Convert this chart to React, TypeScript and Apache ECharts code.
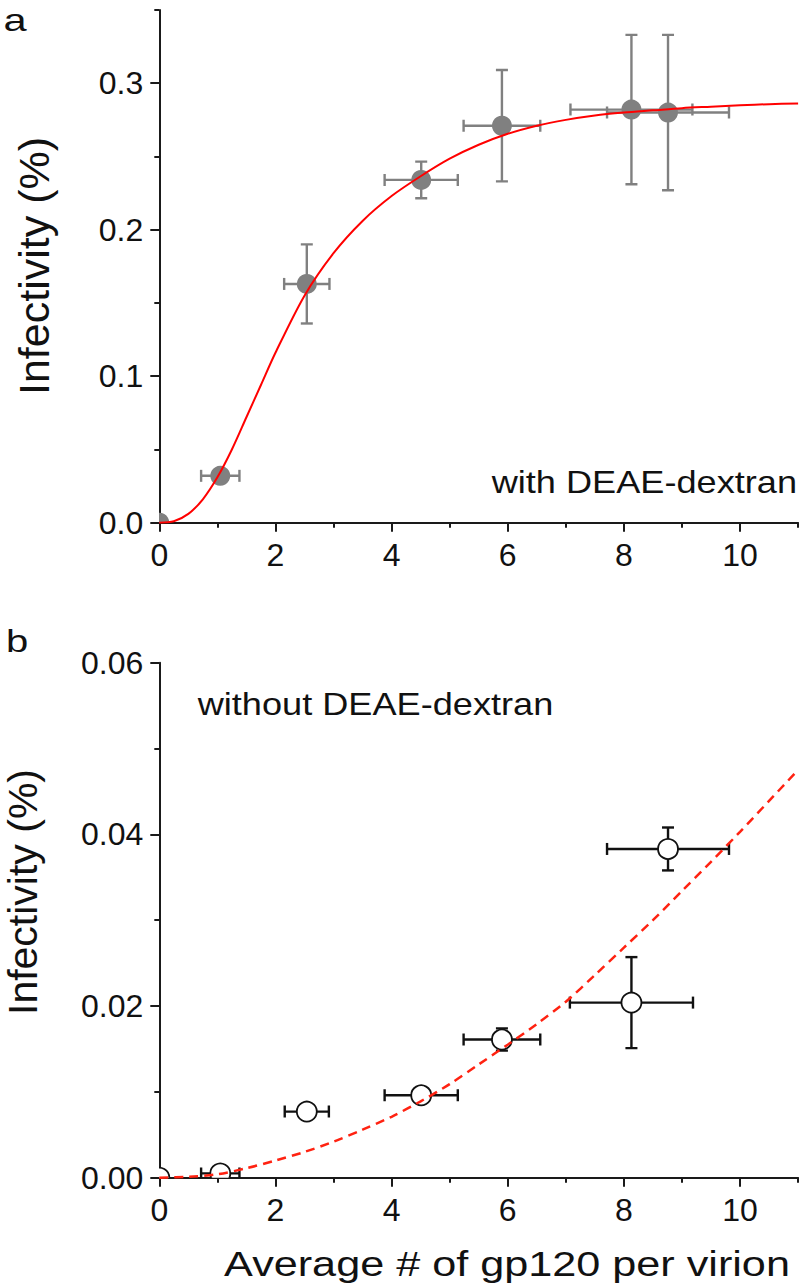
import React, { useEffect, useRef } from "react";
import * as echarts from "echarts";

// Panel a (with DEAE-dextran)
const TOP_X = [0, 1.05, 2.54, 4.51, 5.9, 8.13, 8.76];
const TOP_Y = [0, 0.032, 0.163, 0.234, 0.271, 0.282, 0.28];
const TOP_XERR = [0, 0.33, 0.39, 0.63, 0.66, 1.05, 1.05];
const TOP_YERR = [0, 0, 0.027, 0.0125, 0.038, 0.051, 0.053];
const TOP_FIT_X = [0, 0.25, 0.5, 0.75, 1, 1.25, 1.5, 1.75, 2, 2.5, 3, 3.5, 4, 4.5, 5, 5.5, 6, 6.5, 7, 7.5, 8, 8.5, 9, 9.5, 10, 10.5, 11];
const TOP_FIT_Y = [0, 0.001, 0.006, 0.016, 0.031, 0.05, 0.072, 0.094, 0.116, 0.155, 0.184, 0.206, 0.223, 0.2365, 0.2485, 0.258, 0.2655, 0.271, 0.275, 0.278, 0.28, 0.2815, 0.283, 0.284, 0.285, 0.2857, 0.2862];

// Panel b (without DEAE-dextran)
const BOT_X = [0, 1.05, 2.54, 4.51, 5.9, 8.13, 8.76];
const BOT_Y = [0, 0.0005, 0.0077, 0.0096, 0.0161, 0.0204, 0.0383];
const BOT_XERR = [0, 0.33, 0.38, 0.63, 0.66, 1.06, 1.05];
const BOT_YERR = [0, 0, 0, 0.0004, 0.0013, 0.0053, 0.0025];
const BOT_FIT_X = [0, 0.5, 1, 1.5, 2, 2.5, 3, 3.5, 4, 4.5, 5, 5.5, 6, 6.5, 7, 7.5, 8, 8.5, 9, 9.5, 10, 10.5, 11];
const BOT_FIT_Y = [0, 0.0001, 0.0004, 0.0011, 0.002, 0.003, 0.0042, 0.0056, 0.0071, 0.0089, 0.0109, 0.0132, 0.0155, 0.0179, 0.0205, 0.0236, 0.0268, 0.03, 0.0334, 0.0368, 0.0403, 0.0439, 0.0475];

// Ticks
const X_MAJOR = [0, 2, 4, 6, 8, 10];
const X_MINOR = [1, 3, 5, 7, 9, 11];
const TOP_Y_MAJOR = [0, 0.1, 0.2, 0.3];
const TOP_Y_MINOR = [0.05, 0.15, 0.25, 0.35];
const BOT_Y_MAJOR = [0, 0.02, 0.04, 0.06];
const BOT_Y_MINOR = [0.01, 0.03, 0.05];

const FONT = "'Liberation Sans', Arial, Helvetica, sans-serif";
const AX = "#1a1a1a";

function errorBars(color: string, cap: number) {
  return (params: any, api: any) => {
    const x = api.value(0), y = api.value(1), ex = api.value(2), ey = api.value(3);
    const ch: any[] = [];
    const st = { stroke: color, lineWidth: 2.4 };
    if (ex > 0) {
      const l = api.coord([x - ex, y]);
      const r = api.coord([x + ex, y]);
      ch.push({ type: "line", shape: { x1: l[0], y1: l[1], x2: r[0], y2: r[1] }, style: st });
      ch.push({ type: "line", shape: { x1: l[0], y1: l[1] - cap, x2: l[0], y2: l[1] + cap }, style: st });
      ch.push({ type: "line", shape: { x1: r[0], y1: r[1] - cap, x2: r[0], y2: r[1] + cap }, style: st });
    }
    if (ey > 0) {
      const t = api.coord([x, y + ey]);
      const b = api.coord([x, y - ey]);
      ch.push({ type: "line", shape: { x1: t[0], y1: t[1], x2: b[0], y2: b[1] }, style: st });
      ch.push({ type: "line", shape: { x1: t[0] - cap, y1: t[1], x2: t[0] + cap, y2: t[1] }, style: st });
      ch.push({ type: "line", shape: { x1: b[0] - cap, y1: b[1], x2: b[0] + cap, y2: b[1] }, style: st });
    }
    return { type: "group", children: ch };
  };
}

function markers(fill: string, stroke: string, lw: number, r: number) {
  return (params: any, api: any) => {
    const c = api.coord([api.value(0), api.value(1)]);
    return { type: "circle", shape: { cx: c[0], cy: c[1], r }, style: { fill, stroke, lineWidth: lw } };
  };
}

function xAxes(grid: number) {
  return [
    {
      type: "value", gridIndex: grid, min: 0, max: 11, position: "bottom",
      axisLine: { show: true, onZero: false, lineStyle: { color: AX, width: 2 } },
      axisTick: { show: true, customValues: X_MAJOR, length: 9, lineStyle: { color: AX, width: 2 } },
      axisLabel: { show: true, customValues: X_MAJOR, fontSize: 32, margin: 16, color: "#111", fontFamily: FONT },
      splitLine: { show: false },
    },
    {
      type: "value", gridIndex: grid, min: 0, max: 11, position: "bottom",
      axisLine: { show: false, onZero: false },
      axisTick: { show: true, customValues: X_MINOR, length: 5, lineStyle: { color: AX, width: 2 } },
      axisLabel: { show: false },
      splitLine: { show: false },
    },
  ];
}

function yAxes(grid: number, max: number, major: number[], minor: number[], digits: number) {
  return [
    {
      type: "value", gridIndex: grid, min: 0, max, position: "left",
      axisLine: { show: true, onZero: false, lineStyle: { color: AX, width: 2 } },
      axisTick: { show: true, customValues: major, length: 9, lineStyle: { color: AX, width: 2 } },
      axisLabel: {
        show: true, customValues: major, fontSize: 32, margin: 16, color: "#111", fontFamily: FONT,
        formatter: (v: number) => v.toFixed(digits),
      },
      splitLine: { show: false },
    },
    {
      type: "value", gridIndex: grid, min: 0, max, position: "left",
      axisLine: { show: false, onZero: false },
      axisTick: { show: true, customValues: minor, length: 5, lineStyle: { color: AX, width: 2 } },
      axisLabel: { show: false },
      splitLine: { show: false },
    },
  ];
}

function txt(text: string, x: number, y: number, size: number, opts: any = {}) {
  return {
    type: "text", x, y, rotation: opts.rotation || 0, scaleX: opts.scaleX || 1, scaleY: 1,
    style: {
      text, fontSize: size, fontFamily: FONT, fill: "#111",
      textAlign: opts.align || "left", textVerticalAlign: "middle", verticalAlign: "middle",
    },
  };
}

export default function App() {
  const ref = useRef<HTMLDivElement>(null);
  useEffect(() => {
    if (!ref.current) return;
    const chart = echarts.init(ref.current, undefined, { renderer: "svg" });
    const topPts = TOP_X.map((x, i) => [x, TOP_Y[i], TOP_XERR[i], TOP_YERR[i]]);
    const botPts = BOT_X.map((x, i) => [x, BOT_Y[i], BOT_XERR[i], BOT_YERR[i]]);
    const grey = "#808080";
    chart.setOption({
      animation: false,
      backgroundColor: "#fff",
      grid: [
        { left: 159.3, top: 10, width: 638.8, height: 512.7, containLabel: false },
        { left: 159.3, top: 662.7, width: 638.8, height: 515, containLabel: false },
      ],
      xAxis: [...xAxes(0), ...xAxes(1)],
      yAxis: [
        ...yAxes(0, 0.35, TOP_Y_MAJOR, TOP_Y_MINOR, 1),
        ...yAxes(1, 0.06, BOT_Y_MAJOR, BOT_Y_MINOR, 2),
      ],
      series: [
        {
          type: "custom", xAxisIndex: 0, yAxisIndex: 0, clip: true,
          renderItem: errorBars(grey, 6), data: topPts, silent: true,
        },
        {
          type: "custom", xAxisIndex: 0, yAxisIndex: 0, clip: true,
          renderItem: markers(grey, grey, 0, 10), data: topPts, silent: true,
        },
        {
          type: "line", xAxisIndex: 0, yAxisIndex: 0, showSymbol: false, smooth: 0.3,
          data: TOP_FIT_X.map((x, i) => [x, TOP_FIT_Y[i]]),
          lineStyle: { color: "#f00", width: 2 }, silent: true,
        },
        {
          type: "custom", xAxisIndex: 2, yAxisIndex: 2, clip: true,
          renderItem: errorBars("#111", 6), data: botPts, silent: true,
        },
        {
          type: "custom", xAxisIndex: 2, yAxisIndex: 2, clip: true,
          renderItem: markers("#fff", "#111", 1.8, 10), data: botPts, silent: true,
        },
        {
          type: "line", xAxisIndex: 2, yAxisIndex: 2, showSymbol: false, smooth: 0.3,
          data: BOT_FIT_X.map((x, i) => [x, BOT_FIT_Y[i]]),
          lineStyle: { color: "#f21", width: 2.5, type: [9, 6] }, silent: true,
        },
      ],
      graphic: [
        txt("a", 3.5, 20, 32, { scaleX: 1.3 }),
        txt("b", 6, 640.6, 32, { scaleX: 1.25 }),
        txt("with DEAE-dextran", 491.7, 481.3, 32, { scaleX: 1.13 }),
        txt("without DEAE-dextran", 197.7, 704, 32, { scaleX: 1.13 }),
        txt("Infectivity (%)", 34, 266, 43, { rotation: Math.PI / 2, align: "center" }),
        txt("Infectivity (%)", 22.5, 892, 41, { rotation: Math.PI / 2, align: "center" }),
        txt("Average # of gp120 per virion", 507, 1263, 36, { align: "center", scaleX: 1.2 }),
      ],
    });
    return () => chart.dispose();
  }, []);
  return (
    <div
      ref={ref}
      style={{ position: "absolute", left: 0, top: 0, width: 800, height: 1285, background: "#fff" }}
    />
  );
}
